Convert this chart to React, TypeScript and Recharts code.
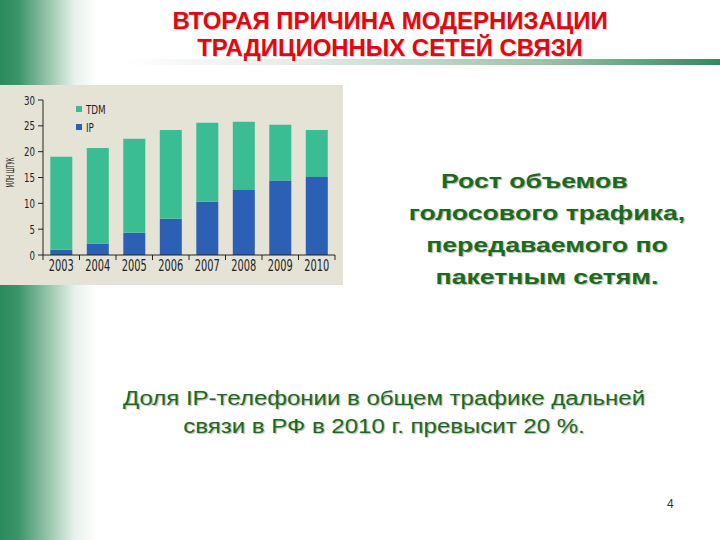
import React from 'react';
import { BarChart, Bar, XAxis, YAxis, Legend } from 'recharts';

const years = ['2003', '2004', '2005', '2006', '2007', '2008', '2009', '2010'];
const ipValues = [1.0, 2.2, 4.3, 7.0, 10.3, 12.6, 14.4, 15.1];
const tdmValues = [18.0, 18.5, 18.2, 17.2, 15.3, 13.2, 10.8, 9.1];
const yTicks = [0, 5, 10, 15, 20, 25, 30];
const legendOrder = ['TDM', 'IP'];

const data = years.map((year, i) => ({ year, IP: ipValues[i], TDM: tdmValues[i] }));

const TDM_COLOR = '#3bbd94';
const IP_COLOR = '#2c60b4';
const AXIS_COLOR = '#222';
const CHART_FONT = '"DejaVu Sans Condensed", "Liberation Sans Narrow", "DejaVu Sans", sans-serif';

const CHART_W = 343;
const CHART_H = 200;
const Y_AXIS_W = 43;
const RIGHT_M = 8;
const STEP = (CHART_W - Y_AXIS_W - RIGHT_M) / years.length;

// condensed look: squeeze glyphs to the narrow width of the original
const YearTick = (props: any) => {
  const { x, y, payload, index } = props;
  const half = payload && payload.offset ? payload.offset : STEP / 2;
  const isLast = index === years.length - 1;
  return (
    <g>
      <line x1={x - half} x2={x - half} y1={y} y2={y + 5} stroke={AXIS_COLOR} />
      {isLast && <line x1={x + half} x2={x + half} y1={y} y2={y + 5} stroke={AXIS_COLOR} />}
      <text
        x={x - 12.5}
        y={y + 16}
        textLength={25}
        lengthAdjust="spacingAndGlyphs"
        fill="#222"
        fontSize={15}
        fontFamily={CHART_FONT}
      >
        {payload.value}
      </text>
    </g>
  );
};

const ValueTick = (props: any) => {
  const { x, y, payload } = props;
  const label = String(payload.value);
  const w = label.length * 5.5;
  return (
    <text
      x={x - w}
      y={y + 4.5}
      textLength={w}
      lengthAdjust="spacingAndGlyphs"
      fill="#222"
      fontSize={13}
      fontFamily={CHART_FONT}
    >
      {label}
    </text>
  );
};

const UnitLabel = (props: any) => {
  const vb = props.viewBox || { x: 0, y: 15, width: 43, height: 155 };
  const cx = vb.x + 10;
  const cy = vb.y + vb.height / 2 - 5;
  return (
    <text
      x={cx - 15}
      y={cy}
      transform={`rotate(-90 ${cx} ${cy})`}
      dominantBaseline="central"
      textLength={30}
      lengthAdjust="spacingAndGlyphs"
      fill="#222"
      fontSize={11}
      fontFamily={CHART_FONT}
    >
      МЛН ШТУК
    </text>
  );
};

const LegendBox = (props: any) => {
  const items = [...(props.payload || [])].sort(
    (a: any, b: any) => legendOrder.indexOf(a.value) - legendOrder.indexOf(b.value)
  );
  return (
    <div style={{ fontFamily: CHART_FONT, fontSize: 13, color: '#222' }}>
      {items.map((it: any) => (
        <div key={it.value} style={{ display: 'flex', alignItems: 'center', height: 18 }}>
          <span style={{ width: 6, height: 6, background: it.color, marginRight: 4, display: 'inline-block' }} />
          <span style={{ display: 'inline-block', transform: 'scaleX(0.75)', transformOrigin: 'left center' }}>
            {it.value}
          </span>
        </div>
      ))}
    </div>
  );
};

const SalesChart = () => (
  <BarChart
    width={CHART_W}
    height={CHART_H}
    data={data}
    margin={{ top: 15, right: RIGHT_M, left: 0, bottom: 0 }}
    barCategoryGap="20%"
    style={{ background: '#e5e3d5' }}
  >
    <XAxis
      dataKey="year"
      height={30}
      axisLine={{ stroke: AXIS_COLOR }}
      tickLine={false}
      tickSize={0}
      tickMargin={0}
      interval={0}
      tick={<YearTick />}
    />
    <YAxis
      width={Y_AXIS_W}
      domain={[0, 30]}
      ticks={yTicks}
      axisLine={{ stroke: AXIS_COLOR }}
      tickLine={{ stroke: AXIS_COLOR }}
      tickSize={5}
      tickMargin={3}
      tick={<ValueTick />}
      label={<UnitLabel />}
    />
    <Legend
      layout="horizontal"
      verticalAlign="middle"
      align="center"
      content={<LegendBox />}
      wrapperStyle={{ left: 76, top: 15, width: 'auto', height: 'auto' }}
    />
    <Bar dataKey="IP" name="IP" stackId="a" fill={IP_COLOR} isAnimationActive={false} />
    <Bar dataKey="TDM" name="TDM" stackId="a" fill={TDM_COLOR} isAnimationActive={false} />
  </BarChart>
);

const greenText: React.CSSProperties = {
  color: '#1c6a1c',
  textShadow: '1px 1px 1px #b8b8b8',
  fontFamily: '"Liberation Sans", Arial, sans-serif',
  textAlign: 'center',
};

export default function App() {
  return (
    <div
      style={{
        position: 'fixed',
        left: 0,
        top: 0,
        width: 720,
        height: 540,
        background: '#fff',
        overflow: 'hidden',
        fontFamily: '"Liberation Sans", Arial, sans-serif',
      }}
    >
      <div
        style={{
          position: 'absolute',
          left: 0,
          top: 0,
          width: 100,
          height: 540,
          background: 'linear-gradient(to right, #2a8a5a 0px, #3a9468 18px, #9cc8b0 50px, #e8f2ec 75px, #ffffff 98px)',
        }}
      />
      <div
        style={{
          position: 'absolute',
          left: 120,
          top: 59,
          width: 600,
          height: 6,
          background: 'linear-gradient(to right, #ffffff 0%, #e6ebe7 30%, #9fc3ad 70%, #2e8b5c 100%)',
        }}
      />
      <div
        style={{
          position: 'absolute',
          left: 140,
          top: 8,
          width: 500,
          textAlign: 'center',
          color: '#dc0a12',
          fontWeight: 'bold',
          fontSize: 23,
          lineHeight: '27px',
          textShadow: '1px 1px 1px #c8c8c8',
          transform: 'scaleX(1.04)',
        }}
      >
        <div>ВТОРАЯ ПРИЧИНА МОДЕРНИЗАЦИИ</div>
        <div>ТРАДИЦИОННЫХ СЕТЕЙ СВЯЗИ</div>
      </div>
      <div style={{ position: 'absolute', left: 0, top: 85 }}>
        <SalesChart />
      </div>
      <div
        style={{
          ...greenText,
          position: 'absolute',
          left: 397,
          top: 165,
          width: 300,
          fontWeight: 'bold',
          fontSize: 21,
          lineHeight: '32px',
          transform: 'scaleX(1.27)',
        }}
      >
        <div style={{ paddingRight: 20 }}>Рост объемов</div>
        <div>голосового трафика,</div>
        <div>передаваемого по</div>
        <div>пакетным сетям.</div>
      </div>
      <div
        style={{
          ...greenText,
          position: 'absolute',
          left: 84,
          top: 384,
          width: 600,
          fontSize: 20,
          lineHeight: '28px',
          transform: 'scaleX(1.2)',
        }}
      >
        <div>Доля IP-телефонии в общем трафике дальней</div>
        <div>связи в РФ в 2010 г. превысит 20 %.</div>
      </div>
      <div style={{ position: 'absolute', left: 667, top: 497, fontSize: 12, color: '#333' }}>4</div>
    </div>
  );
}
